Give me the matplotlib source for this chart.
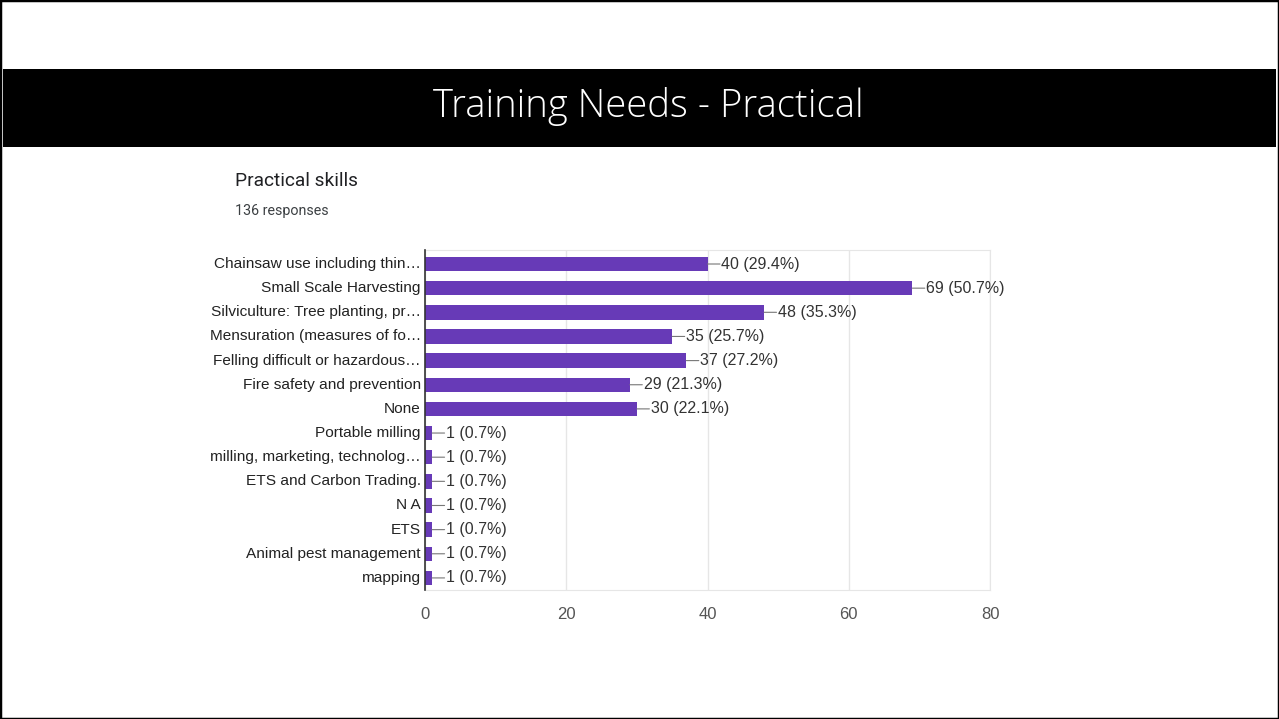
import matplotlib.pyplot as plt
from matplotlib.patches import Rectangle

skills = [
    "Chainsaw use including thin…",
    "Small Scale Harvesting",
    "Silviculture: Tree planting, pr…",
    "Mensuration (measures of fo…",
    "Felling difficult or hazardous…",
    "Fire safety and prevention",
    "None",
    "Portable milling",
    "milling, marketing, technolog…",
    "ETS and Carbon Trading.",
    "N A",
    "ETS",
    "Animal pest management",
    "mapping",
]
counts = [40, 69, 48, 35, 37, 29, 30, 1, 1, 1, 1, 1, 1, 1]
percents = [29.4, 50.7, 35.3, 25.7, 27.2, 21.3, 22.1, 0.7, 0.7, 0.7, 0.7, 0.7, 0.7, 0.7]
x_ticks = [0, 20, 40, 60, 80]

W, H = 1279, 719
fig = plt.figure(figsize=(W / 100, H / 100), dpi=100)

# slide frame and black title band
fig.patches.append(Rectangle((0, 0), 1, 1, transform=fig.transFigure,
                             fill=False, edgecolor="black", linewidth=2.5))
fig.patches.append(Rectangle((0.002, 1 - 147 / H), 0.996, 78 / H, transform=fig.transFigure,
                             facecolor="black", edgecolor="none"))
fig.text(648 / W, 1 - 106 / H, "Training Needs - Practical", color="white",
         fontsize=27.5, family="Open Sans", fontweight="light", ha="center", va="center")

fig.text(235 / W, 1 - 181 / H, "Practical skills", fontsize=13.8, family="Roboto",
         color="#202124", va="center")
fig.text(235 / W, 1 - 211 / H, "136 responses", fontsize=10.3, family="Roboto",
         color="#3c4043", va="center")

ax = fig.add_axes([425 / W, 1 - 590 / H, 565 / W, 340 / H])
y = list(range(len(skills)))
ax.barh(y, counts, height=0.6, color="#673ab7", zorder=3)

for yi, c, p in zip(y, counts, percents):
    ax.annotate("", xy=(c, yi), xytext=(9, 0), textcoords="offset points",
                arrowprops=dict(arrowstyle="-", color="#777777", lw=0.8, shrinkA=0, shrinkB=0))
    ax.annotate(f"{c} ({p}%)", xy=(c, yi), xytext=(10, 0), textcoords="offset points",
                va="center", ha="left", fontsize=11.5, family="Liberation Sans", color="#333333")

ax.set_xlim(0, 80)
ax.set_ylim(13.5, -0.58)
ax.set_xticks(x_ticks)
ax.set_yticks(y, labels=skills)
ax.tick_params(axis="y", length=0, pad=3, labelsize=11.1, labelcolor="#222222")
ax.tick_params(axis="x", length=0, pad=12, labelsize=12, labelcolor="#555555")
for lab in ax.get_xticklabels() + ax.get_yticklabels():
    lab.set_family("Liberation Sans")
for lab in ax.get_yticklabels():
    lab.set_verticalalignment("center")

ax.grid(axis="x", color="#e6e6e6", linewidth=1, zorder=0)
for side in ["top", "right", "bottom"]:
    ax.spines[side].set_color("#e6e6e6")
ax.spines["left"].set_color("#333333")
ax.spines["left"].set_linewidth(1.2)
ax.spines["left"].set_zorder(4)

fig.savefig("out.png", dpi=100)
